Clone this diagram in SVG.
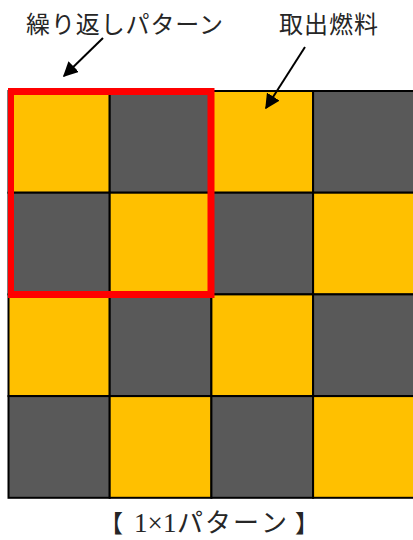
<svg xmlns="http://www.w3.org/2000/svg" width="413" height="540" viewBox="0 0 413 540">
<style>
.y{fill:#FFC000;stroke:#000;stroke-width:2}
.g{fill:#595959;stroke:#000;stroke-width:2}
.t{font-family:"Liberation Serif","Noto Sans CJK JP",serif;font-size:24px;fill:#262626}
.c{stroke:#000;stroke-width:2;fill:none}
</style>
<defs>
<marker id="ah" viewBox="0 0 10 10" refX="9" refY="5" markerWidth="7.5" markerHeight="7.5" markerUnits="strokeWidth" orient="auto">
<path d="M0,0 L10,5 L0,10 z" fill="#000"/>
</marker>
<clipPath id="cl"><rect x="8" y="0" width="413" height="540"/></clipPath>
</defs>
<rect width="413" height="540" fill="#fff"/>
<g id="grid">
<rect id="c00" class="y" x="8.5" y="91" width="101.2" height="101.7"/>
<rect id="c01" class="g" x="109.7" y="91" width="101.7" height="101.7"/>
<rect id="c02" class="y" x="211.4" y="91" width="101.7" height="101.7"/>
<rect id="c03" class="g" x="313.1" y="91" width="101.7" height="101.7"/>
<rect id="c10" class="g" x="8.5" y="192.7" width="101.2" height="101.7"/>
<rect id="c11" class="y" x="109.7" y="192.7" width="101.7" height="101.7"/>
<rect id="c12" class="g" x="211.4" y="192.7" width="101.7" height="101.7"/>
<rect id="c13" class="y" x="313.1" y="192.7" width="101.7" height="101.7"/>
<rect id="c20" class="y" x="8.5" y="294.4" width="101.2" height="101.7"/>
<rect id="c21" class="g" x="109.7" y="294.4" width="101.7" height="101.7"/>
<rect id="c22" class="y" x="211.4" y="294.4" width="101.7" height="101.7"/>
<rect id="c23" class="g" x="313.1" y="294.4" width="101.7" height="101.7"/>
<rect id="c30" class="g" x="8.5" y="396.1" width="101.2" height="101.7"/>
<rect id="c31" class="y" x="109.7" y="396.1" width="101.7" height="101.7"/>
<rect id="c32" class="g" x="211.4" y="396.1" width="101.7" height="101.7"/>
<rect id="c33" class="y" x="313.1" y="396.1" width="101.7" height="101.7"/>
</g>
<g id="pattern">
<rect x="10.5" y="91.5" width="200.5" height="203" fill="none" stroke="#FF0000" stroke-width="7" clip-path="url(#cl)"/>
</g>
<g id="labels">
<text id="lbl1" class="t" x="26" y="33" textLength="197" lengthAdjust="spacing">繰り返しパターン</text>
<text id="lbl2" class="t" x="279" y="33" textLength="99" lengthAdjust="spacing">取出燃料</text>
<text id="cap" class="t" y="532"><tspan x="99 123">【 </tspan><tspan x="134" style="font-size:27px">1</tspan><tspan x="147.5" style="font-size:27px">×</tspan><tspan x="163" style="font-size:27px">1</tspan><tspan x="177 205 233 261" style="font-size:26px">パターン</tspan><tspan x="287 295"> 】</tspan></text>
</g>
<g id="connectors">
<line class="c" x1="103" y1="38" x2="64" y2="76" marker-end="url(#ah)"/>
<line class="c" x1="305" y1="47" x2="266" y2="108" marker-end="url(#ah)"/>
</g>
</svg>
